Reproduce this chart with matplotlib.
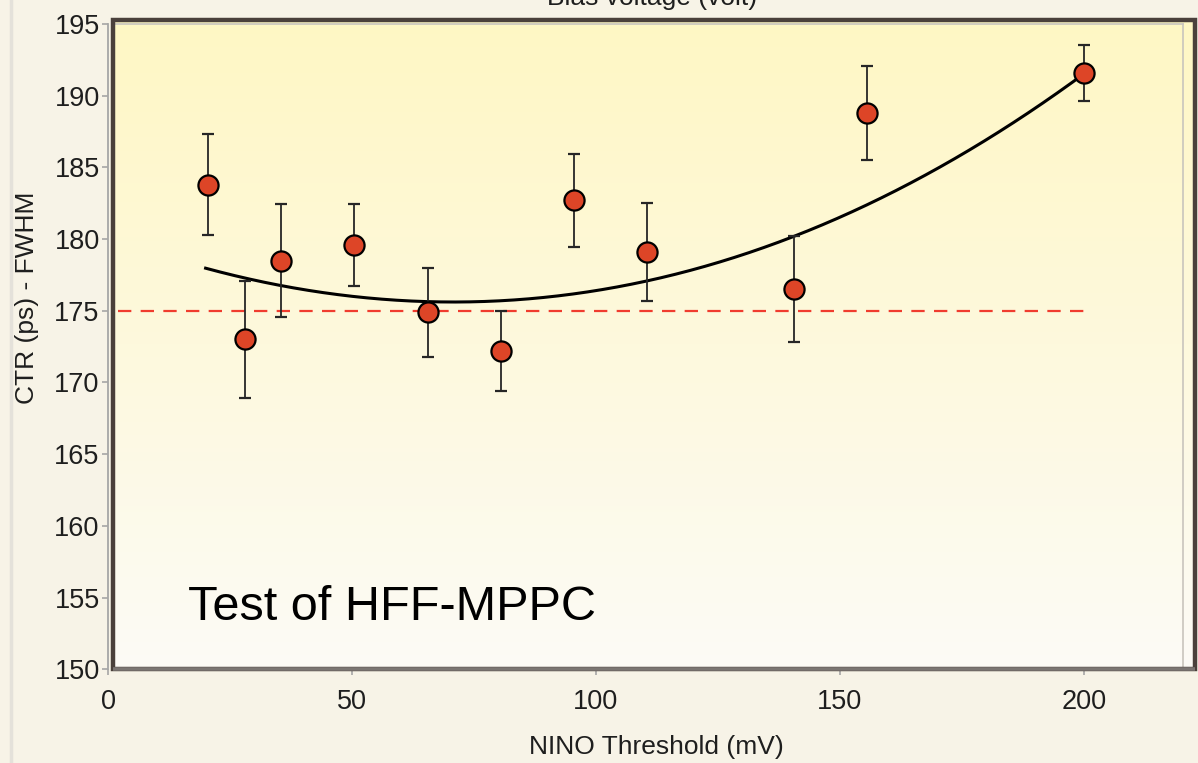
import numpy as np
import matplotlib
matplotlib.use("Agg")
import matplotlib.pyplot as plt
from matplotlib.patches import Rectangle
from matplotlib.lines import Line2D

plt.rcParams['font.family'] = ['Liberation Sans', 'DejaVu Sans']

# ---- data ----
threshold = [20.5, 28, 35.5, 50.5, 65.5, 80.5, 95.5, 110.5, 140.5, 155.5, 200]
ctr = [183.8, 173.0, 178.5, 179.6, 174.9, 172.2, 182.7, 179.1, 176.5, 188.8, 191.6]
ctr_err = [3.5, 4.1, 3.95, 2.85, 3.1, 2.8, 3.25, 3.4, 3.7, 3.25, 1.95]

# trend curve (smoothed by a polynomial fit)
fit_x = [20, 28, 35, 50, 65, 80, 95, 110, 125, 140, 155, 169, 185, 200]
fit_y = [177.9, 177.3, 176.85, 176.05, 175.7, 175.68, 175.98, 177.1, 178.3, 180.2,
         182.5, 184.5, 188.1, 191.5]

target_x = [2, 200]
target_y = [175, 175]

xticks = [0, 50, 100, 150, 200]
yticks = [150, 155, 160, 165, 170, 175, 180, 185, 190, 195]

W, H = 1198, 763
fig = plt.figure(figsize=(W / 100, H / 100), dpi=100)
fig.patch.set_facecolor('#f7f3e7')

ax = fig.add_axes([108 / W, 1 - 669.3 / H, (1196.2 - 108) / W, (669.3 - 20.4) / H])
ax.set_xlim(0, 223)
ax.set_ylim(150, 195.25)
ax.patch.set_alpha(0)

# gradient background
grad = np.linspace(0, 1, 256).reshape(-1, 1)
top = np.array([255, 247, 196]) / 255.0
bot = np.array([252, 251, 246]) / 255.0
img = top[None, None, :] * (1 - grad[:, :, None]) + bot[None, None, :] * grad[:, :, None]
ax.imshow(img, extent=(1, 222.7, 150, 195.25), aspect='auto', origin='upper', zorder=0)

# inner light lines
ax.plot([1, 220.2], [195.0, 195.0], color='#c9c5bd', lw=1.2, zorder=1)
ax.plot([220.2, 220.2], [150, 195.0], color='#c9c5bd', lw=1.2, zorder=1)

# frame
ax.add_patch(Rectangle((1, 150), 221.7, 45.25, fill=False, edgecolor='#4a403b',
                       lw=3.2, zorder=2, clip_on=False))
ax.plot([1, 222.7], [150, 150], color='#7b7572', lw=2.6, zorder=3, clip_on=False,
        solid_capstyle='butt')

# dashed target line
ax.plot(target_x, target_y, color='#f03c2e', lw=1.6, dashes=(6, 4.2), zorder=4)

# fit curve (smooth)
coef = np.polyfit(fit_x, fit_y, 3)
xs = np.linspace(min(fit_x), max(fit_x), 300)
ax.plot(xs, np.polyval(coef, xs), color='black', lw=2.2, zorder=5)

# data with errors
ax.errorbar(threshold, ctr, yerr=ctr_err, fmt='o', color='#dd4527', ms=14.5,
            mec='black', mew=1.6, ecolor='#262626', elinewidth=1.3, capsize=4.5,
            capthick=1.3, zorder=6)

ax.text(16.3, 153.45, 'Test of HFF-MPPC', fontsize=35, color='black', va='baseline', zorder=7)

# spines and ticks
for s in ['top', 'right', 'bottom']:
    ax.spines[s].set_visible(False)
ax.spines['left'].set_color('#a6a6a6')
ax.spines['left'].set_linewidth(1.3)
ax.spines['left'].set_bounds(150, 195)
ax.set_xticks(xticks)
ax.set_yticks(yticks)
ax.tick_params(axis='both', colors='#a6a6a6', labelcolor='#1e1e1e', labelsize=19.5,
               length=4, width=1.2)
ax.tick_params(axis='x', pad=10)
ax.tick_params(axis='y', pad=2)

fig.text(656 / W, 1 - 747 / H, 'NINO Threshold (mV)', fontsize=19, ha='center', va='center',
         color='#1e1e1e')
fig.text(27 / W, 1 - 298 / H, 'CTR (ps) - FWHM', fontsize=19, ha='center', va='center',
         rotation=90, color='#1e1e1e')
fig.text(652 / W, 1 - 5.5 / H, 'Bias voltage (volt)', fontsize=19, ha='center', va='baseline',
         color='#1e1e1e')

fig.add_artist(Line2D([11 / W, 11 / W], [0, 1], color='#e4e1da', lw=2.5))

fig.savefig('out.png', dpi=100, facecolor=fig.get_facecolor())
